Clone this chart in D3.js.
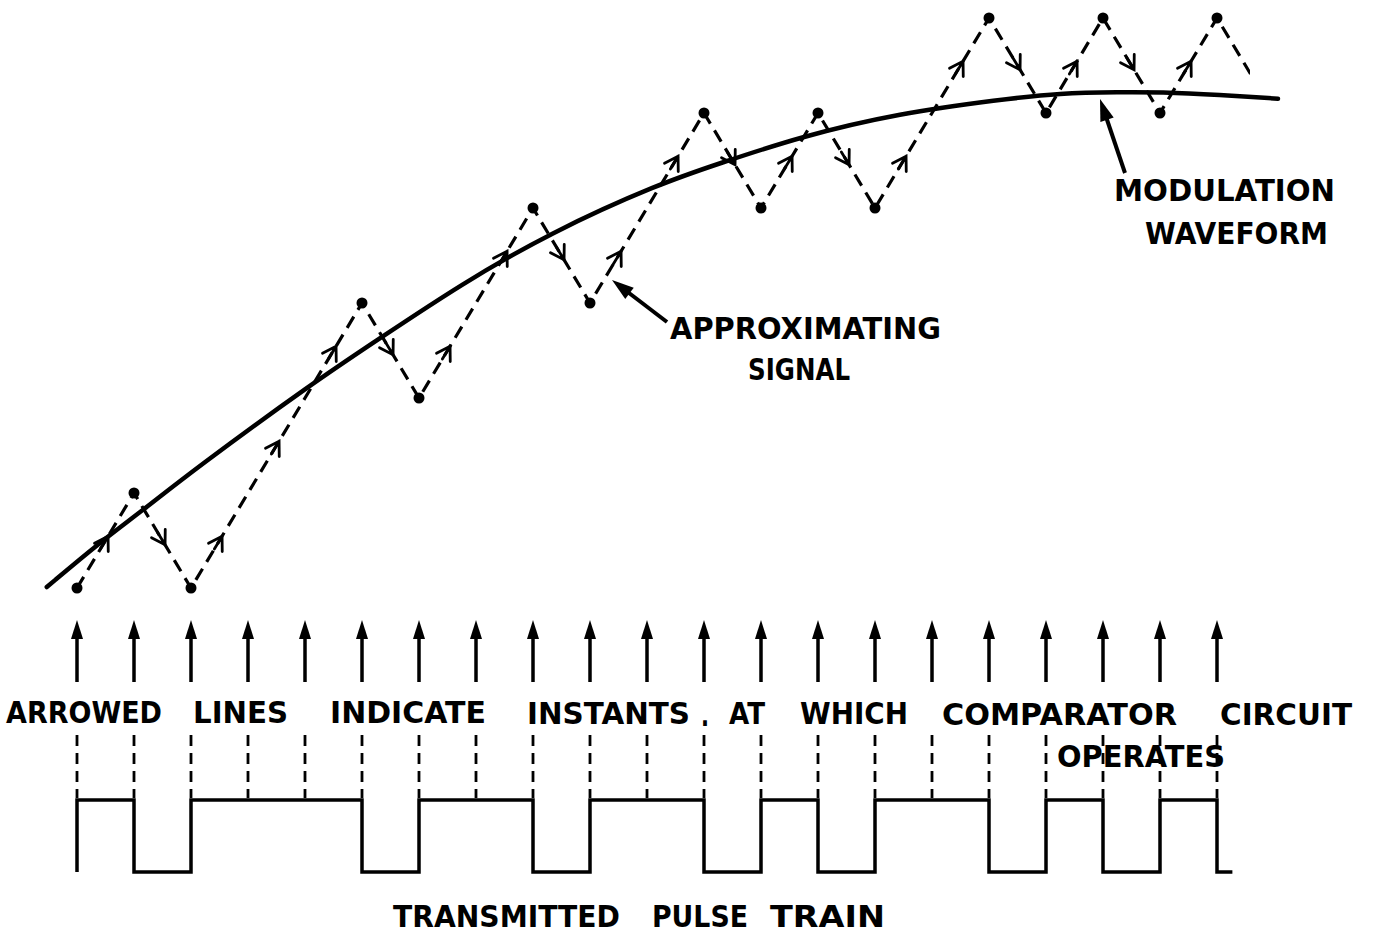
<!DOCTYPE html>
<html>
<head>
<meta charset="utf-8">
<script src="https://cdn.jsdelivr.net/npm/d3@7"></script>
<style>
  body { margin: 0; background: #fff; }
  svg { display: block; background: #fff; }
  text { font-family: "DejaVu Sans", sans-serif; font-weight: bold; fill: #000; }
</style>
</head>
<body>
<svg id="chart"></svg>
<script>
// sampling instants of the comparator (clock periods)
const instants = [0, 1, 2, 3, 4, 5, 6, 7, 8, 9, 10, 11, 12, 13, 14, 15, 16, 17, 18, 19, 20];
// approximating signal, in step units, at each instant
const stepLevels = [0, 1, 0, 1, 2, 3, 2, 3, 4, 3, 4, 5, 4, 5, 4, 5, 6, 5, 6, 5, 6];
// the last dashed slope heads for this level but is cut short
const tailLevel = 5;
const tailEnd = 20.58;
// transmitted pulse train, one bit per clock period
const pulseBits = [1, 0, 1, 1, 1, 0, 1, 1, 0, 1, 1, 0, 1, 0, 1, 1, 0, 1, 0, 1, 0];
const pulseEnd = 20.27;
// modulation waveform (time, level)
const modTime = [-0.53, 0.40, 1.16, 2.04, 4.14, 5.32, 6.72, 8.30, 10.23, 11.28, 12.68, 14.44, 16.19, 17.25, 18.30, 19.0, 20.05, 21.07];
const modLevel = [0.01, 0.48, 0.82, 1.24, 2.16, 2.63, 3.19, 3.74, 4.26, 4.47, 4.75, 5.0, 5.14, 5.21, 5.22, 5.22, 5.19, 5.15];

const captionWords = ['ARROWED', 'LINES', 'INDICATE', 'INSTANTS', '.', 'AT', 'WHICH', 'COMPARATOR', 'CIRCUIT', 'OPERATES'];
const pulseTitle = ['TRANSMITTED', 'PULSE', 'TRAIN'];
const approxLabel = ['APPROXIMATING', 'SIGNAL'];
const modLabel = ['MODULATION', 'WAVEFORM'];

const width = 1375;
const height = 933;

const svg = d3.select('#chart')
    .attr('width', width)
    .attr('height', height)
    .attr('viewBox', [0, 0, width, height]);

const x = d3.scaleLinear().domain([0, 20]).range([77, 1217]);
const y = d3.scaleLinear().domain([0, 6]).range([588, 18]);
const yPulse = d3.scaleLinear().domain([0, 1]).range([872, 800]);

// modulation waveform
const modData = modTime.map((t, i) => ({t: t, v: modLevel[i]}));
svg.append('path')
    .datum(modData)
    .attr('fill', 'none')
    .attr('stroke', '#000')
    .attr('stroke-width', 4.5)
    .attr('stroke-linecap', 'round')
    .attr('d', d3.line().x(d => x(d.t)).y(d => y(d.v)).curve(d3.curveBasis));

// approximating signal (dashed zigzag)
const levels = stepLevels.concat([tailLevel]);
const approx = levels.map((v, i) => ({t: i, v: v}));

svg.append('clipPath').attr('id', 'tailclip')
    .append('rect')
    .attr('x', 0).attr('y', 0)
    .attr('width', x(tailEnd)).attr('height', height);

svg.append('path')
    .datum(approx)
    .attr('clip-path', 'url(#tailclip)')
    .attr('fill', 'none')
    .attr('stroke', '#000')
    .attr('stroke-width', 3.2)
    .attr('stroke-dasharray', '13,8')
    .attr('d', d3.line().x(d => x(d.t)).y(d => y(d.v)));

// open arrowheads halfway along each step
const segs = d3.pairs(approx).slice(0, stepLevels.length - 1);
svg.append('g')
    .selectAll('path')
    .data(segs)
    .join('path')
    .attr('fill', 'none')
    .attr('stroke', '#000')
    .attr('stroke-width', 2.8)
    .attr('stroke-linecap', 'round')
    .attr('transform', ([a, b]) => {
        const x0 = x(a.t), y0 = y(a.v), x1 = x(b.t), y1 = y(b.v);
        const ang = Math.atan2(y1 - y0, x1 - x0) * 180 / Math.PI;
        return `translate(${(x0 + x1) / 2},${(y0 + y1) / 2}) rotate(${ang})`;
    })
    .attr('d', 'M-8,-8 L5,0 L-8,8 M-10,0 L5,0');

// dots where the slope turns round
const dots = approx.filter((d, i) => i < stepLevels.length &&
    (i === 0 || (levels[i] - levels[i - 1]) * (levels[i + 1] - levels[i]) < 0));
svg.append('g')
    .selectAll('circle')
    .data(dots)
    .join('circle')
    .attr('cx', d => x(d.t))
    .attr('cy', d => y(d.v))
    .attr('r', 5.5)
    .attr('fill', '#000');

// label pointers
function pointer(x1, y1, x2, y2) {
    const ang = Math.atan2(y2 - y1, x2 - x1) * 180 / Math.PI;
    const len = Math.hypot(x2 - x1, y2 - y1);
    const g = svg.append('g').attr('transform', `translate(${x1},${y1}) rotate(${ang})`);
    g.append('line').attr('x1', 0).attr('y1', 0).attr('x2', len - 14)
        .attr('y2', 0).attr('stroke', '#000').attr('stroke-width', 4);
    g.append('path').attr('d', `M${len},0 L${len - 22},-7 L${len - 22},7 Z`).attr('fill', '#000');
}
pointer(667, 322, 612, 280);
pointer(1125, 173, 1100, 99);

// comparator instants: arrows
const arrows = svg.append('g');
arrows.selectAll('line')
    .data(instants)
    .join('line')
    .attr('x1', d => x(d)).attr('x2', d => x(d))
    .attr('y1', 682).attr('y2', 632)
    .attr('stroke', '#000').attr('stroke-width', 3.5);
arrows.selectAll('path')
    .data(instants)
    .join('path')
    .attr('d', d => `M${x(d)},620 L${x(d) - 6},639 L${x(d) + 6},639 Z`)
    .attr('fill', '#000');

// dashed drop lines to the pulse train
svg.append('g')
    .selectAll('line')
    .data(instants)
    .join('line')
    .attr('x1', d => x(d)).attr('x2', d => x(d))
    .attr('y1', 735).attr('y2', 798)
    .attr('stroke', '#000').attr('stroke-width', 2.8)
    .attr('stroke-dasharray', '11,7');

// pulse train
const pulseData = [{t: 0, b: 0}]
    .concat(pulseBits.map((b, i) => ({t: instants[i], b: b})))
    .concat([{t: pulseEnd, b: pulseBits[pulseBits.length - 1]}]);
svg.append('path')
    .datum(pulseData)
    .attr('fill', 'none')
    .attr('stroke', '#000')
    .attr('stroke-width', 3.5)
    .attr('d', d3.line().x(d => x(d.t)).y(d => yPulse(d.b)).curve(d3.curveStepAfter));

// lettering
const textLayout = [
    [captionWords[0], 6, 162, 723],
    [captionWords[1], 193, 288, 723],
    [captionWords[2], 330, 486, 723],
    [captionWords[3], 527, 690, 724],
    [captionWords[4], 701, 709, 726],
    [captionWords[5], 729, 765, 724],
    [captionWords[6], 800, 908, 724],
    [captionWords[7], 942, 1177, 725],
    [captionWords[8], 1220, 1352, 725],
    [captionWords[9], 1057, 1225, 767],
    [approxLabel[0], 670, 941, 339],
    [approxLabel[1], 748, 850, 380],
    [modLabel[0], 1114, 1335, 201],
    [modLabel[1], 1145, 1328, 244],
    [pulseTitle[0], 393, 620, 927],
    [pulseTitle[1], 652, 748, 927],
    [pulseTitle[2], 770, 885, 927]
];
svg.append('g')
    .selectAll('text')
    .data(textLayout)
    .join('text')
    .attr('x', d => d[1])
    .attr('y', d => d[3])
    .attr('font-size', 31)
    .attr('textLength', d => d[2] - d[1])
    .attr('lengthAdjust', 'spacingAndGlyphs')
    .text(d => d[0]);
</script>
</body>
</html>
